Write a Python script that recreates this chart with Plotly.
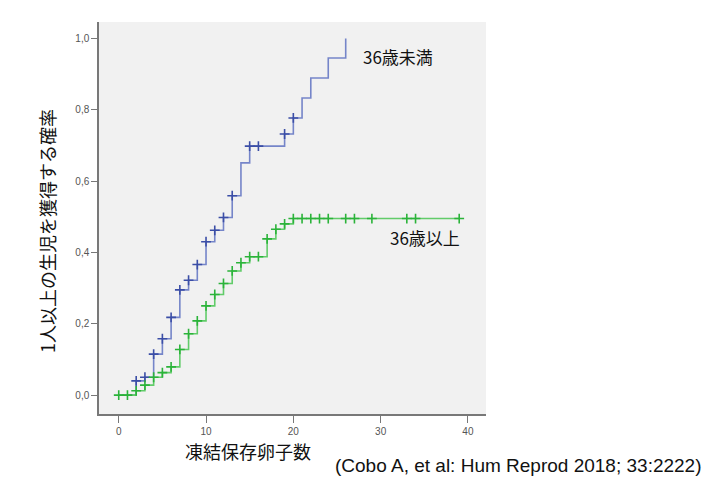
import plotly.graph_objects as go

# Data
blue_x = [0, 2, 3, 4, 5, 6, 7, 8, 9, 10, 11, 12, 13, 14, 15, 16, 19, 20, 21, 22, 24, 26]
blue_y = [0, 0.040, 0.050, 0.115, 0.158, 0.218, 0.295, 0.322, 0.366, 0.430, 0.462, 0.498,
          0.559, 0.651, 0.698, 0.698, 0.732, 0.777, 0.833, 0.889, 0.945, 1.0]
blue_censored = [0, 1, 1, 1, 1, 1, 1, 1, 1, 1, 1, 1, 1, 0, 1, 1, 1, 1, 0, 0, 0, 0]

green_x = [0, 1, 2, 3, 4, 5, 6, 7, 8, 9, 10, 11, 12, 13, 14, 15, 16, 17, 18, 19, 20,
           21, 22, 23, 24, 26, 27, 29, 33, 34, 39]
green_y = [0, 0, 0.012, 0.028, 0.050, 0.063, 0.079, 0.128, 0.172, 0.208, 0.250, 0.282,
           0.313, 0.348, 0.371, 0.388, 0.388, 0.438, 0.465, 0.480, 0.495,
           0.495, 0.495, 0.495, 0.495, 0.495, 0.495, 0.495, 0.495, 0.495, 0.495]
green_censored = [1] * len(green_x)

x_ticks = [0, 10, 20, 30, 40]
y_ticks = [0.0, 0.2, 0.4, 0.6, 0.8, 1.0]
y_tick_labels = ["0,0", "0,2", "0,4", "0,6", "0,8", "1,0"]

label_under = "36歳未満"
label_over = "36歳以上"
x_title = "凍結保存卵子数"
y_title = "1人以上の生児を獲得する確率"
citation = "(Cobo A, et al: Hum Reprod 2018; 33:2222)"

BLUE_LINE = "#7585c9"
BLUE_MARK = "#3b4ea6"
GREEN_LINE = "#62cc6a"
GREEN_MARK = "#2bb33a"

fig = go.Figure()

def add_curve(xs, ys, cens, line_col, mark_col):
    fig.add_trace(go.Scatter(x=xs, y=ys, mode="lines", line=dict(shape="hv", color=line_col, width=1.6),
                             hoverinfo="skip", showlegend=False))
    cx = [x for x, c in zip(xs, cens) if c]
    cy = [y for y, c in zip(ys, cens) if c]
    fig.add_trace(go.Scatter(x=cx, y=cy, mode="markers",
                             marker=dict(symbol="cross-thin", size=7, color=mark_col,
                                         line=dict(color=mark_col, width=1.6)),
                             hoverinfo="skip", showlegend=False))

add_curve(blue_x, blue_y, blue_censored, BLUE_LINE, BLUE_MARK)
add_curve(green_x, green_y, green_censored, GREEN_LINE, GREEN_MARK)

tick_font = dict(family="Liberation Sans, Arial, sans-serif", size=10, color="#555555")
jp_font = "Noto Sans CJK JP, Liberation Sans, sans-serif"

fig.update_layout(
    width=720, height=491,
    margin=dict(l=99, r=234, t=22, b=77),
    paper_bgcolor="white",
    plot_bgcolor="#f1f1f1",
    xaxis=dict(range=[-2.26, 42.07], tickvals=x_ticks, ticktext=[str(v) for v in x_ticks],
               showgrid=False, zeroline=False, showline=True, linecolor="#787878", linewidth=1.5,
               ticks="outside", ticklen=7, tickwidth=1.2, tickcolor="#787878",
               tickfont=tick_font, fixedrange=True),
    yaxis=dict(range=[-0.053, 1.046], tickvals=y_ticks, ticktext=y_tick_labels,
               showgrid=False, zeroline=False, showline=True, linecolor="#787878", linewidth=1.5,
               ticks="outside", ticklen=6, tickwidth=1.2, tickcolor="#787878",
               tickfont=tick_font, fixedrange=True),
    annotations=[
        dict(text=y_title, xref="paper", yref="paper", x=-0.134, y=0.467, showarrow=False,
             textangle=-90, font=dict(family=jp_font, size=18, color="#111111"),
             xanchor="center", yanchor="middle"),
        dict(text=x_title, xref="paper", yref="paper", x=0.385, y=-0.094, showarrow=False,
             font=dict(family=jp_font, size=18, color="#111111"), xanchor="center", yanchor="middle"),
        dict(text=citation, xref="paper", yref="paper", x=0.605, y=-0.132, showarrow=False,
             font=dict(family="Liberation Sans, Arial, sans-serif", size=19, color="#111111"),
             xanchor="left", yanchor="middle"),
        dict(text=label_under, xref="paper", yref="paper", x=0.773, y=0.911, showarrow=False,
             font=dict(family=jp_font, size=17, color="#111111"), xanchor="center", yanchor="middle"),
        dict(text=label_over, xref="paper", yref="paper", x=0.842, y=0.449, showarrow=False,
             font=dict(family=jp_font, size=17, color="#111111"), xanchor="center", yanchor="middle"),
    ],
)

fig.write_html("out.html", config={"displayModeBar": False})
